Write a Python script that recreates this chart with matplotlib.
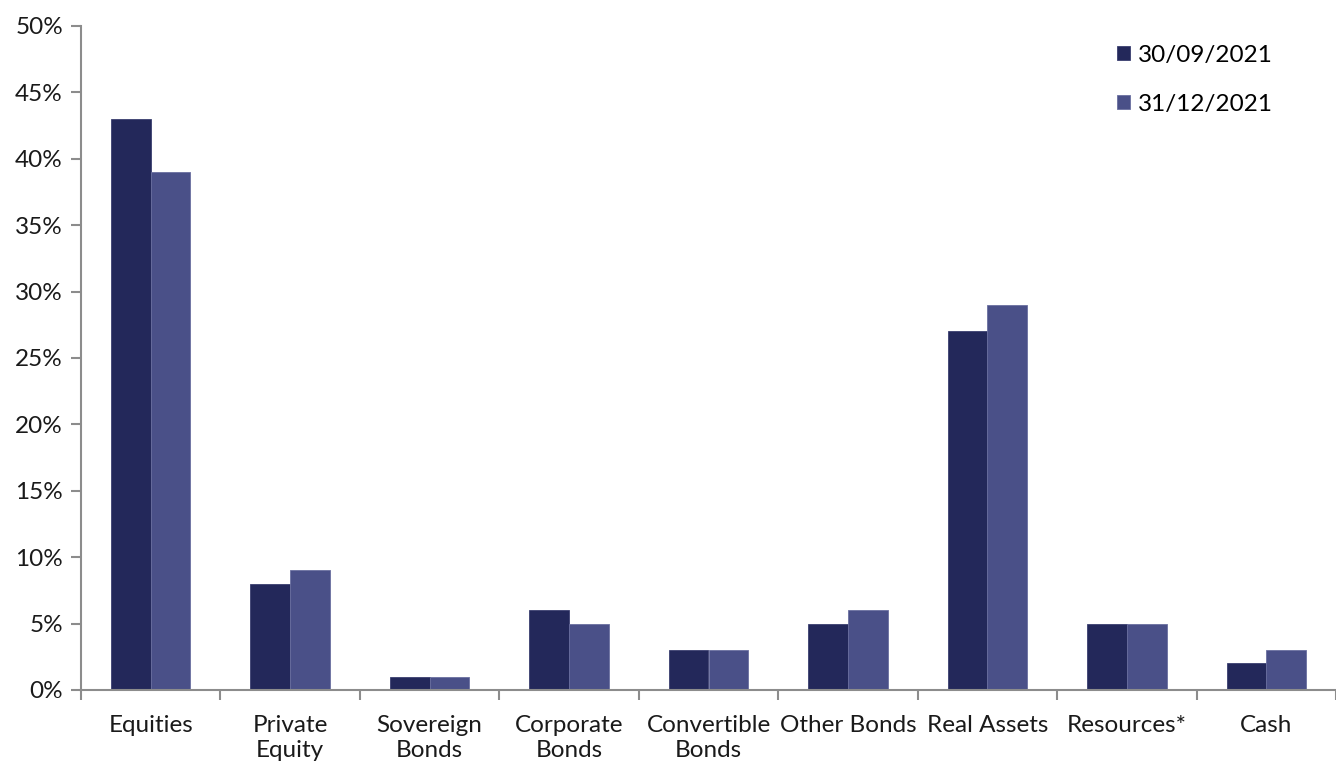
import matplotlib
matplotlib.use("Agg")
import matplotlib.pyplot as plt
import numpy as np
from matplotlib.ticker import PercentFormatter

plt.rcParams["font.family"] = ["Lato", "DejaVu Sans"]

CATEGORIES = ["Equities", "Private\nEquity", "Sovereign\nBonds", "Corporate\nBonds",
              "Convertible\nBonds", "Other Bonds", "Real Assets", "Resources*", "Cash"]
SEP_2021 = [43, 8, 1, 6, 3, 5, 27, 5, 2]
DEC_2021 = [39, 9, 1, 5, 3, 6, 29, 5, 3]
SERIES = ["30/09/2021", "31/12/2021"]
COLORS = ["#23285a", "#4a5088"]
AXIS_GREY = "#8c8c8c"
FS = 17.5

fig = plt.figure(figsize=(13.36, 7.61), dpi=100)
ax = fig.add_axes([81 / 1336, 71 / 761, 1 - 81 / 1336, 664 / 761])

x = np.arange(len(CATEGORIES))
w = 0.285
ax.bar(x - w / 2, SEP_2021, w, color=COLORS[0], label=SERIES[0],
       edgecolor="#3a3f70", linewidth=0.6)
ax.bar(x + w / 2, DEC_2021, w, color=COLORS[1], label=SERIES[1],
       edgecolor="#6a6fa0", linewidth=0.6)

ax.set_xlim(-0.5, len(CATEGORIES) - 0.5)
ax.set_ylim(0, 50)
ax.set_yticks(np.arange(0, 51, 5))
ax.yaxis.set_major_formatter(PercentFormatter(decimals=0))

ax.set_xticks(x)
ax.set_xticklabels(CATEGORIES, fontsize=FS, color="#1a1a1a", linespacing=1.25)
ax.set_xticks(np.arange(-0.5, len(CATEGORIES), 1), minor=True)
ax.tick_params(axis="x", which="major", length=0, pad=18)
ax.tick_params(axis="x", which="minor", length=7, width=1.5, color=AXIS_GREY)
ax.tick_params(axis="y", length=7, width=1.5, color=AXIS_GREY,
               labelsize=FS, labelcolor="#1a1a1a", pad=6)

for side in ("top", "right"):
    ax.spines[side].set_visible(False)
for side in ("left", "bottom"):
    ax.spines[side].set_color(AXIS_GREY)
    ax.spines[side].set_linewidth(1.5)

ax.legend(loc="upper left", bbox_to_anchor=(0.808, 1.005), frameon=False,
          fontsize=FS, handlelength=0.55, handleheight=0.55, handletextpad=0.3,
          labelspacing=1.15)

fig.savefig("out.png", dpi=100)
